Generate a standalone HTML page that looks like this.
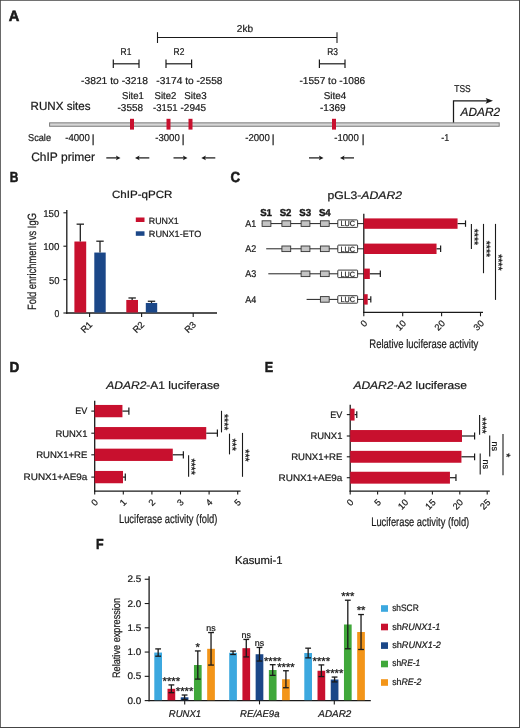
<!DOCTYPE html>
<html><head><meta charset="utf-8"><title>Figure</title>
<style>html,body{margin:0;padding:0;background:#fff;}body{width:520px;height:728px;overflow:hidden;font-family:"Liberation Sans", sans-serif;}svg{display:block;will-change:transform;}text{font-family:"Liberation Sans", sans-serif;fill:#1a1a1a;stroke:#1a1a1a;stroke-width:0.22px;text-rendering:geometricPrecision;}</style>
</head><body>
<svg width="520" height="728" viewBox="0 0 520 728">
<rect x="0" y="0" width="520" height="728" fill="#fff"/>
<path d="M0 0H520V728H0Z M0.8 0.8V727H519.05V0.8Z" fill="#444" fill-rule="evenodd"/>
<text x="8.7" y="20.8" font-size="14.8" font-weight="bold" style="stroke-width:0.55px" textLength="10.6" lengthAdjust="spacingAndGlyphs">A</text>
<line x1="157.5" y1="37.5" x2="337" y2="37.5" stroke="#1a1a1a" stroke-width="1.1"/>
<line x1="157.5" y1="32.2" x2="157.5" y2="43" stroke="#1a1a1a" stroke-width="1.1"/>
<line x1="337" y1="32.2" x2="337" y2="43" stroke="#1a1a1a" stroke-width="1.1"/>
<text x="245" y="32.2" font-size="10" text-anchor="middle" textLength="16.3" lengthAdjust="spacingAndGlyphs">2kb</text>
<text x="126" y="54.7" font-size="10" text-anchor="middle" textLength="10.8" lengthAdjust="spacingAndGlyphs">R1</text>
<line x1="113.3" y1="63.8" x2="139" y2="63.8" stroke="#1a1a1a" stroke-width="1.2"/>
<line x1="113.3" y1="59.6" x2="113.3" y2="68" stroke="#1a1a1a" stroke-width="1.2"/>
<line x1="139" y1="59.6" x2="139" y2="68" stroke="#1a1a1a" stroke-width="1.2"/>
<text x="179" y="54.7" font-size="10" text-anchor="middle" textLength="10.8" lengthAdjust="spacingAndGlyphs">R2</text>
<line x1="166" y1="63.8" x2="191.6" y2="63.8" stroke="#1a1a1a" stroke-width="1.2"/>
<line x1="166" y1="59.6" x2="166" y2="68" stroke="#1a1a1a" stroke-width="1.2"/>
<line x1="191.6" y1="59.6" x2="191.6" y2="68" stroke="#1a1a1a" stroke-width="1.2"/>
<text x="332.6" y="54.7" font-size="10" text-anchor="middle" textLength="10.8" lengthAdjust="spacingAndGlyphs">R3</text>
<line x1="319.4" y1="63.8" x2="345" y2="63.8" stroke="#1a1a1a" stroke-width="1.2"/>
<line x1="319.4" y1="59.6" x2="319.4" y2="68" stroke="#1a1a1a" stroke-width="1.2"/>
<line x1="345" y1="59.6" x2="345" y2="68" stroke="#1a1a1a" stroke-width="1.2"/>
<text x="114.5" y="83.7" font-size="10" text-anchor="middle" textLength="67" lengthAdjust="spacingAndGlyphs">-3821 to -3218</text>
<text x="189.4" y="83.7" font-size="10" text-anchor="middle" textLength="66.3" lengthAdjust="spacingAndGlyphs">-3174 to -2558</text>
<text x="332.3" y="83.7" font-size="10" text-anchor="middle" textLength="65.8" lengthAdjust="spacingAndGlyphs">-1557 to -1086</text>
<text x="132.9" y="98.8" font-size="10" text-anchor="middle" textLength="21.8" lengthAdjust="spacingAndGlyphs">Site1</text>
<text x="130.3" y="110.6" font-size="10" text-anchor="middle" textLength="25.5" lengthAdjust="spacingAndGlyphs">-3558</text>
<text x="165.4" y="98.8" font-size="10" text-anchor="middle" textLength="21.8" lengthAdjust="spacingAndGlyphs">Site2</text>
<text x="165.3" y="110.6" font-size="10" text-anchor="middle" textLength="24.5" lengthAdjust="spacingAndGlyphs">-3151</text>
<text x="195.5" y="98.8" font-size="10" text-anchor="middle" textLength="22.3" lengthAdjust="spacingAndGlyphs">Site3</text>
<text x="193.3" y="110.6" font-size="10" text-anchor="middle" textLength="25.5" lengthAdjust="spacingAndGlyphs">-2945</text>
<text x="335" y="98.8" font-size="10" text-anchor="middle" textLength="22.5" lengthAdjust="spacingAndGlyphs">Site4</text>
<text x="332.8" y="110.6" font-size="10" text-anchor="middle" textLength="25.5" lengthAdjust="spacingAndGlyphs">-1369</text>
<text x="30.6" y="110.4" font-size="11.8" textLength="60" lengthAdjust="spacingAndGlyphs">RUNX sites</text>
<rect x="49.6" y="122.85" width="449.6" height="3.4" fill="#d6d6d6" stroke="#7a7a7a" stroke-width="1"/>
<rect x="130" y="118.8" width="4" height="10.8" fill="#c8102e"/>
<rect x="166.5" y="118.8" width="4" height="10.8" fill="#c8102e"/>
<rect x="188.5" y="118.8" width="4" height="10.8" fill="#c8102e"/>
<rect x="332" y="118.8" width="4" height="10.8" fill="#c8102e"/>
<text x="28" y="141" font-size="10" textLength="23" lengthAdjust="spacingAndGlyphs">Scale</text>
<text x="65.2" y="141.1" font-size="10" textLength="24.6" lengthAdjust="spacingAndGlyphs">-4000</text>
<line x1="93.1" y1="134.3" x2="93.1" y2="145.2" stroke="#1a1a1a" stroke-width="1.2"/>
<text x="155.2" y="141.1" font-size="10" textLength="24.6" lengthAdjust="spacingAndGlyphs">-3000</text>
<line x1="183.1" y1="134.3" x2="183.1" y2="145.2" stroke="#1a1a1a" stroke-width="1.2"/>
<text x="245.2" y="141.1" font-size="10" textLength="24.6" lengthAdjust="spacingAndGlyphs">-2000</text>
<line x1="273.1" y1="134.3" x2="273.1" y2="145.2" stroke="#1a1a1a" stroke-width="1.2"/>
<text x="334.2" y="141.1" font-size="10" textLength="24.6" lengthAdjust="spacingAndGlyphs">-1000</text>
<line x1="363.1" y1="134.3" x2="363.1" y2="145.2" stroke="#1a1a1a" stroke-width="1.2"/>
<text x="441.2" y="140.5" font-size="10" textLength="8" lengthAdjust="spacingAndGlyphs">-1</text>
<text x="31.2" y="160.8" font-size="12.2" textLength="63.8" lengthAdjust="spacingAndGlyphs">ChIP primer</text>
<line x1="106.3" y1="157.9" x2="118.0" y2="157.9" stroke="#1a1a1a" stroke-width="1.25"/>
<path d="M120.5 157.9 L115.9 155.5 L116.9 157.9 L115.9 160.3 Z" fill="#1a1a1a"/>
<line x1="137.5" y1="157.9" x2="149.3" y2="157.9" stroke="#1a1a1a" stroke-width="1.25"/>
<path d="M135 157.9 L139.6 155.5 L138.6 157.9 L139.6 160.3 Z" fill="#1a1a1a"/>
<line x1="173.5" y1="157.9" x2="185.0" y2="157.9" stroke="#1a1a1a" stroke-width="1.25"/>
<path d="M187.5 157.9 L182.9 155.5 L183.9 157.9 L182.9 160.3 Z" fill="#1a1a1a"/>
<line x1="203.8" y1="157.9" x2="215.3" y2="157.9" stroke="#1a1a1a" stroke-width="1.25"/>
<path d="M201.3 157.9 L205.9 155.5 L204.9 157.9 L205.9 160.3 Z" fill="#1a1a1a"/>
<line x1="309" y1="157.9" x2="321.0" y2="157.9" stroke="#1a1a1a" stroke-width="1.25"/>
<path d="M323.5 157.9 L318.9 155.5 L319.9 157.9 L318.9 160.3 Z" fill="#1a1a1a"/>
<line x1="342.5" y1="157.9" x2="354" y2="157.9" stroke="#1a1a1a" stroke-width="1.25"/>
<path d="M340 157.9 L344.6 155.5 L343.6 157.9 L344.6 160.3 Z" fill="#1a1a1a"/>
<text x="462.5" y="92" font-size="10" text-anchor="middle" textLength="16.4" lengthAdjust="spacingAndGlyphs">TSS</text>
<path d="M453.5 122.4 L453.5 100.8 L489 100.8" fill="none" stroke="#1a1a1a" stroke-width="1.25"/>
<path d="M493 100.8 L485.6 97.9 L487.2 100.8 L485.6 103.7 Z" fill="#1a1a1a"/>
<text x="460.6" y="116.4" font-size="12" font-style="italic" textLength="39.5" lengthAdjust="spacingAndGlyphs">ADAR2</text>
<text x="9.8" y="182.3" font-size="14.5" font-weight="bold" style="stroke-width:0.55px" textLength="8.6" lengthAdjust="spacingAndGlyphs">B</text>
<text x="142.2" y="198" font-size="10.5" text-anchor="middle" textLength="60.5" lengthAdjust="spacingAndGlyphs">ChIP-qPCR</text>
<line x1="66.8" y1="210" x2="66.8" y2="313.65" stroke="#1a1a1a" stroke-width="1.3"/>
<line x1="66.15" y1="313" x2="217" y2="313" stroke="#1a1a1a" stroke-width="1.3"/>
<line x1="63.4" y1="313.0" x2="66.8" y2="313.0" stroke="#1a1a1a" stroke-width="1.1"/>
<text x="59.4" y="316.9" font-size="10" text-anchor="end" textLength="4.8" lengthAdjust="spacingAndGlyphs">0</text>
<line x1="63.4" y1="279.6" x2="66.8" y2="279.6" stroke="#1a1a1a" stroke-width="1.1"/>
<text x="59.4" y="283.5" font-size="10" text-anchor="end" textLength="10.5" lengthAdjust="spacingAndGlyphs">50</text>
<line x1="63.4" y1="246.2" x2="66.8" y2="246.2" stroke="#1a1a1a" stroke-width="1.1"/>
<text x="59.4" y="250.1" font-size="10" text-anchor="end" textLength="16.2" lengthAdjust="spacingAndGlyphs">100</text>
<line x1="63.4" y1="212.8" x2="66.8" y2="212.8" stroke="#1a1a1a" stroke-width="1.1"/>
<text x="59.4" y="216.7" font-size="10" text-anchor="end" textLength="16.2" lengthAdjust="spacingAndGlyphs">150</text>
<rect x="74.4" y="241.52" width="11.8" height="70.98" fill="#c8102e"/>
<line x1="80.3" y1="241.52" x2="80.3" y2="224.16" stroke="#1a1a1a" stroke-width="1.25"/>
<line x1="76.6" y1="224.16" x2="84.0" y2="224.16" stroke="#1a1a1a" stroke-width="1.25"/>
<rect x="94.3" y="252.55" width="11.4" height="59.95" fill="#1b4788"/>
<line x1="100.0" y1="252.55" x2="100.0" y2="241.19" stroke="#1a1a1a" stroke-width="1.25"/>
<line x1="96.3" y1="241.19" x2="103.7" y2="241.19" stroke="#1a1a1a" stroke-width="1.25"/>
<rect x="126.3" y="299.97" width="11.7" height="12.53" fill="#c8102e"/>
<line x1="132.15" y1="299.97" x2="132.15" y2="297.97" stroke="#1a1a1a" stroke-width="1.25"/>
<line x1="128.45" y1="297.97" x2="135.85" y2="297.97" stroke="#1a1a1a" stroke-width="1.25"/>
<rect x="145.8" y="302.98" width="11.4" height="9.52" fill="#1b4788"/>
<line x1="151.5" y1="302.98" x2="151.5" y2="301.24" stroke="#1a1a1a" stroke-width="1.25"/>
<line x1="147.8" y1="301.24" x2="155.2" y2="301.24" stroke="#1a1a1a" stroke-width="1.25"/>
<rect x="180" y="312.1" width="8" height="0.5" fill="#555"/>
<line x1="89.6" y1="313" x2="89.6" y2="317" stroke="#1a1a1a" stroke-width="1.1"/>
<text x="0" y="0" font-size="9.2" text-anchor="end" transform="translate(92.9 325.3) rotate(-45)">R1</text>
<line x1="141.6" y1="313" x2="141.6" y2="317" stroke="#1a1a1a" stroke-width="1.1"/>
<text x="0" y="0" font-size="9.2" text-anchor="end" transform="translate(144.9 325.3) rotate(-45)">R2</text>
<line x1="193.2" y1="313" x2="193.2" y2="317" stroke="#1a1a1a" stroke-width="1.1"/>
<text x="0" y="0" font-size="9.2" text-anchor="end" transform="translate(196.5 325.3) rotate(-45)">R3</text>
<rect x="135.8" y="217.5" width="8.7" height="4.5" fill="#c8102e"/>
<text x="148.8" y="223.6" font-size="9" textLength="30" lengthAdjust="spacingAndGlyphs">RUNX1</text>
<rect x="135.8" y="231.3" width="8.7" height="4.5" fill="#1b4788"/>
<text x="148.8" y="237" font-size="9" textLength="52.5" lengthAdjust="spacingAndGlyphs">RUNX1-ETO</text>
<text x="0" y="0" font-size="12" text-anchor="middle" transform="translate(35.6 261.5) rotate(-90)" textLength="97" lengthAdjust="spacingAndGlyphs">Fold enrichment vs IgG</text>
<text x="230.5" y="182.4" font-size="14.5" font-weight="bold" style="stroke-width:0.55px" textLength="9.6" lengthAdjust="spacingAndGlyphs">C</text>
<text x="364.7" y="198.6" font-size="11" text-anchor="middle" fill="#1a1a1a" textLength="74.6" lengthAdjust="spacingAndGlyphs">pGL3-<tspan font-style="italic">ADAR2</tspan></text>
<text x="266.1" y="216.2" font-size="10" text-anchor="middle" font-weight="bold" style="stroke-width:0.4px" textLength="11.8" lengthAdjust="spacingAndGlyphs">S1</text>
<text x="285.6" y="216.2" font-size="10" text-anchor="middle" font-weight="bold" style="stroke-width:0.4px" textLength="11.8" lengthAdjust="spacingAndGlyphs">S2</text>
<text x="305.2" y="216.2" font-size="10" text-anchor="middle" font-weight="bold" style="stroke-width:0.4px" textLength="11.8" lengthAdjust="spacingAndGlyphs">S3</text>
<text x="324.8" y="216.2" font-size="10" text-anchor="middle" font-weight="bold" style="stroke-width:0.4px" textLength="11.8" lengthAdjust="spacingAndGlyphs">S4</text>
<line x1="363.8" y1="213.8" x2="363.8" y2="313.05" stroke="#1a1a1a" stroke-width="1.3"/>
<line x1="363.15" y1="312.4" x2="483" y2="312.4" stroke="#1a1a1a" stroke-width="1.3"/>
<text x="245.2" y="226.9" font-size="9.8" textLength="11" lengthAdjust="spacingAndGlyphs">A1</text>
<line x1="261.9" y1="223.6" x2="338" y2="223.6" stroke="#222" stroke-width="1.0"/>
<rect x="262.1" y="220.8" width="8.8" height="5.6" fill="#c4c4c4" stroke="#333" stroke-width="0.9"/>
<rect x="281.9" y="220.8" width="8.8" height="5.6" fill="#c4c4c4" stroke="#333" stroke-width="0.9"/>
<rect x="301.1" y="220.8" width="8.8" height="5.6" fill="#c4c4c4" stroke="#333" stroke-width="0.9"/>
<rect x="320.4" y="220.8" width="8.8" height="5.6" fill="#c4c4c4" stroke="#333" stroke-width="0.9"/>
<rect x="337.8" y="219.9" width="19.8" height="7.5" fill="#fff" stroke="#222" stroke-width="0.9" rx="0.7"/>
<text x="347.8" y="226.3" font-size="7.6" text-anchor="middle" textLength="14.6" lengthAdjust="spacingAndGlyphs">LUC</text>
<line x1="357.6" y1="223.6" x2="363.8" y2="223.6" stroke="#222" stroke-width="1.0"/>
<rect x="363.8" y="218.4" width="93.75" height="10.4" fill="#c8102e"/>
<line x1="457.55" y1="223.6" x2="465.52" y2="223.6" stroke="#1a1a1a" stroke-width="1.2"/>
<line x1="465.52" y1="220.4" x2="465.52" y2="226.8" stroke="#1a1a1a" stroke-width="1.2"/>
<text x="245.2" y="252.1" font-size="9.8" textLength="11" lengthAdjust="spacingAndGlyphs">A2</text>
<line x1="266.2" y1="248.8" x2="338" y2="248.8" stroke="#222" stroke-width="1.0"/>
<rect x="281.9" y="246.0" width="8.8" height="5.6" fill="#c4c4c4" stroke="#333" stroke-width="0.9"/>
<rect x="301.1" y="246.0" width="8.8" height="5.6" fill="#c4c4c4" stroke="#333" stroke-width="0.9"/>
<rect x="320.4" y="246.0" width="8.8" height="5.6" fill="#c4c4c4" stroke="#333" stroke-width="0.9"/>
<rect x="337.8" y="245.1" width="19.8" height="7.5" fill="#fff" stroke="#222" stroke-width="0.9" rx="0.7"/>
<text x="347.8" y="251.5" font-size="7.6" text-anchor="middle" textLength="14.6" lengthAdjust="spacingAndGlyphs">LUC</text>
<line x1="357.6" y1="248.8" x2="363.8" y2="248.8" stroke="#222" stroke-width="1.0"/>
<rect x="363.8" y="243.6" width="72.74" height="10.4" fill="#c8102e"/>
<line x1="436.54" y1="248.8" x2="440.63" y2="248.8" stroke="#1a1a1a" stroke-width="1.2"/>
<line x1="440.63" y1="245.6" x2="440.63" y2="252.0" stroke="#1a1a1a" stroke-width="1.2"/>
<text x="245.2" y="277.1" font-size="9.8" textLength="11" lengthAdjust="spacingAndGlyphs">A3</text>
<line x1="268.3" y1="273.8" x2="338" y2="273.8" stroke="#222" stroke-width="1.0"/>
<rect x="301.1" y="271.0" width="8.8" height="5.6" fill="#c4c4c4" stroke="#333" stroke-width="0.9"/>
<rect x="320.4" y="271.0" width="8.8" height="5.6" fill="#c4c4c4" stroke="#333" stroke-width="0.9"/>
<rect x="337.8" y="270.1" width="19.8" height="7.5" fill="#fff" stroke="#222" stroke-width="0.9" rx="0.7"/>
<text x="347.8" y="276.5" font-size="7.6" text-anchor="middle" textLength="14.6" lengthAdjust="spacingAndGlyphs">LUC</text>
<line x1="357.6" y1="273.8" x2="363.8" y2="273.8" stroke="#222" stroke-width="1.0"/>
<rect x="363.8" y="268.6" width="6.03" height="10.4" fill="#c8102e"/>
<line x1="369.83" y1="273.8" x2="380.33" y2="273.8" stroke="#1a1a1a" stroke-width="1.2"/>
<line x1="380.33" y1="270.6" x2="380.33" y2="277.0" stroke="#1a1a1a" stroke-width="1.2"/>
<text x="245.2" y="302.7" font-size="9.8" textLength="11" lengthAdjust="spacingAndGlyphs">A4</text>
<line x1="306.6" y1="299.4" x2="338" y2="299.4" stroke="#222" stroke-width="1.0"/>
<rect x="320.4" y="296.6" width="8.8" height="5.6" fill="#c4c4c4" stroke="#333" stroke-width="0.9"/>
<rect x="337.8" y="295.7" width="19.8" height="7.5" fill="#fff" stroke="#222" stroke-width="0.9" rx="0.7"/>
<text x="347.8" y="302.1" font-size="7.6" text-anchor="middle" textLength="14.6" lengthAdjust="spacingAndGlyphs">LUC</text>
<line x1="357.6" y1="299.4" x2="363.8" y2="299.4" stroke="#222" stroke-width="1.0"/>
<rect x="363.8" y="294.2" width="3.89" height="10.4" fill="#c8102e"/>
<line x1="367.69" y1="299.4" x2="370.8" y2="299.4" stroke="#1a1a1a" stroke-width="1.2"/>
<line x1="370.8" y1="296.2" x2="370.8" y2="302.6" stroke="#1a1a1a" stroke-width="1.2"/>
<line x1="363.8" y1="312.4" x2="363.8" y2="316.3" stroke="#1a1a1a" stroke-width="1.1"/>
<text x="0" y="0" font-size="9.2" text-anchor="end" transform="translate(367.8 323.9) rotate(-45)">0</text>
<line x1="402.7" y1="312.4" x2="402.7" y2="316.3" stroke="#1a1a1a" stroke-width="1.1"/>
<text x="0" y="0" font-size="9.2" text-anchor="end" transform="translate(406.7 323.9) rotate(-45)">10</text>
<line x1="441.6" y1="312.4" x2="441.6" y2="316.3" stroke="#1a1a1a" stroke-width="1.1"/>
<text x="0" y="0" font-size="9.2" text-anchor="end" transform="translate(445.6 323.9) rotate(-45)">20</text>
<line x1="480.5" y1="312.4" x2="480.5" y2="316.3" stroke="#1a1a1a" stroke-width="1.1"/>
<text x="0" y="0" font-size="9.2" text-anchor="end" transform="translate(484.5 323.9) rotate(-45)">30</text>
<text x="423.8" y="347.5" font-size="12.3" text-anchor="middle" textLength="109" lengthAdjust="spacingAndGlyphs">Relative luciferase activity</text>
<line x1="471.4" y1="223.9" x2="471.4" y2="249.1" stroke="#1a1a1a" stroke-width="1.1"/>
<text x="0" y="0" font-size="10.5" text-anchor="middle" transform="translate(470.9 236.9) rotate(90)" style="stroke-width:0.3px">****</text>
<line x1="483.5" y1="223.9" x2="483.5" y2="273.2" stroke="#1a1a1a" stroke-width="1.1"/>
<text x="0" y="0" font-size="10.5" text-anchor="middle" transform="translate(483.0 248.95) rotate(90)" style="stroke-width:0.3px">****</text>
<line x1="495.5" y1="223.9" x2="495.5" y2="299.9" stroke="#1a1a1a" stroke-width="1.1"/>
<text x="0" y="0" font-size="10.5" text-anchor="middle" transform="translate(495.0 262.3) rotate(90)" style="stroke-width:0.3px">****</text>
<text x="9.5" y="371.7" font-size="14.5" font-weight="bold" style="stroke-width:0.55px" textLength="9.8" lengthAdjust="spacingAndGlyphs">D</text>
<text x="163" y="389.3" font-size="11" text-anchor="middle" fill="#1a1a1a" textLength="113.4" lengthAdjust="spacingAndGlyphs"><tspan font-style="italic">ADAR2</tspan>-A1 luciferase</text>
<line x1="94.7" y1="400.8" x2="94.7" y2="491.75" stroke="#1a1a1a" stroke-width="1.3"/>
<line x1="94.05" y1="491.1" x2="240.6" y2="491.1" stroke="#1a1a1a" stroke-width="1.3"/>
<text x="87.4" y="414.4" font-size="9.4" text-anchor="end" textLength="12.1" lengthAdjust="spacingAndGlyphs">EV</text>
<line x1="91.3" y1="411.1" x2="94.7" y2="411.1" stroke="#1a1a1a" stroke-width="1.1"/>
<rect x="94.7" y="404.95" width="27.74" height="12.3" fill="#c8102e"/>
<line x1="122.44" y1="411.1" x2="128.88" y2="411.1" stroke="#1a1a1a" stroke-width="1.2"/>
<line x1="128.88" y1="407.5" x2="128.88" y2="414.7" stroke="#1a1a1a" stroke-width="1.2"/>
<text x="87.4" y="436.5" font-size="9.4" text-anchor="end" textLength="32" lengthAdjust="spacingAndGlyphs">RUNX1</text>
<line x1="91.3" y1="433.2" x2="94.7" y2="433.2" stroke="#1a1a1a" stroke-width="1.1"/>
<rect x="94.7" y="427.05" width="111.54" height="12.3" fill="#c8102e"/>
<line x1="206.24" y1="433.2" x2="217.39" y2="433.2" stroke="#1a1a1a" stroke-width="1.2"/>
<line x1="217.39" y1="429.6" x2="217.39" y2="436.8" stroke="#1a1a1a" stroke-width="1.2"/>
<text x="87.4" y="458.1" font-size="9.4" text-anchor="end" textLength="51.2" lengthAdjust="spacingAndGlyphs">RUNX1+RE</text>
<line x1="91.3" y1="454.8" x2="94.7" y2="454.8" stroke="#1a1a1a" stroke-width="1.1"/>
<rect x="94.7" y="448.65" width="78.08" height="12.3" fill="#c8102e"/>
<line x1="172.78" y1="454.8" x2="183.36" y2="454.8" stroke="#1a1a1a" stroke-width="1.2"/>
<line x1="183.36" y1="451.2" x2="183.36" y2="458.4" stroke="#1a1a1a" stroke-width="1.2"/>
<text x="87.4" y="480.4" font-size="9.4" text-anchor="end" textLength="63.8" lengthAdjust="spacingAndGlyphs">RUNX1+AE9a</text>
<line x1="91.3" y1="477.1" x2="94.7" y2="477.1" stroke="#1a1a1a" stroke-width="1.1"/>
<rect x="94.7" y="470.95" width="28.31" height="12.3" fill="#c8102e"/>
<line x1="123.01" y1="477.1" x2="125.3" y2="477.1" stroke="#1a1a1a" stroke-width="1.2"/>
<line x1="125.3" y1="473.5" x2="125.3" y2="480.7" stroke="#1a1a1a" stroke-width="1.2"/>
<line x1="94.7" y1="491.1" x2="94.7" y2="494.5" stroke="#1a1a1a" stroke-width="1.1"/>
<text x="0" y="0" font-size="9.2" text-anchor="end" transform="translate(98.6 502.8) rotate(-45)">0</text>
<line x1="123.3" y1="491.1" x2="123.3" y2="494.5" stroke="#1a1a1a" stroke-width="1.1"/>
<text x="0" y="0" font-size="9.2" text-anchor="end" transform="translate(127.2 502.8) rotate(-45)">1</text>
<line x1="151.9" y1="491.1" x2="151.9" y2="494.5" stroke="#1a1a1a" stroke-width="1.1"/>
<text x="0" y="0" font-size="9.2" text-anchor="end" transform="translate(155.8 502.8) rotate(-45)">2</text>
<line x1="180.5" y1="491.1" x2="180.5" y2="494.5" stroke="#1a1a1a" stroke-width="1.1"/>
<text x="0" y="0" font-size="9.2" text-anchor="end" transform="translate(184.4 502.8) rotate(-45)">3</text>
<line x1="209.1" y1="491.1" x2="209.1" y2="494.5" stroke="#1a1a1a" stroke-width="1.1"/>
<text x="0" y="0" font-size="9.2" text-anchor="end" transform="translate(213.0 502.8) rotate(-45)">4</text>
<line x1="237.7" y1="491.1" x2="237.7" y2="494.5" stroke="#1a1a1a" stroke-width="1.1"/>
<text x="0" y="0" font-size="9.2" text-anchor="end" transform="translate(241.6 502.8) rotate(-45)">5</text>
<text x="168.2" y="522.5" font-size="12.3" text-anchor="middle" textLength="98.5" lengthAdjust="spacingAndGlyphs">Luciferase activity (fold)</text>
<line x1="221.5" y1="410.8" x2="221.5" y2="432.4" stroke="#1a1a1a" stroke-width="1.1"/>
<text x="0" y="0" font-size="10.5" text-anchor="middle" transform="translate(221.0 422.2) rotate(90)" style="stroke-width:0.3px">****</text>
<line x1="229.5" y1="433.7" x2="229.5" y2="454.4" stroke="#1a1a1a" stroke-width="1.1"/>
<text x="0" y="0" font-size="10.5" text-anchor="middle" transform="translate(229.0 444.65) rotate(90)" style="stroke-width:0.3px">***</text>
<line x1="242.5" y1="432.9" x2="242.5" y2="476.8" stroke="#1a1a1a" stroke-width="1.1"/>
<text x="0" y="0" font-size="10.5" text-anchor="middle" transform="translate(242.0 455.45) rotate(90)" style="stroke-width:0.3px">***</text>
<line x1="188.6" y1="455.2" x2="188.6" y2="476.8" stroke="#1a1a1a" stroke-width="1.1"/>
<text x="0" y="0" font-size="10.5" text-anchor="middle" transform="translate(188.1 466.6) rotate(90)" style="stroke-width:0.3px">****</text>
<text x="264.8" y="371.9" font-size="14.5" font-weight="bold" style="stroke-width:0.55px" textLength="8.4" lengthAdjust="spacingAndGlyphs">E</text>
<text x="410.2" y="389.3" font-size="11" text-anchor="middle" fill="#1a1a1a" textLength="113.6" lengthAdjust="spacingAndGlyphs"><tspan font-style="italic">ADAR2</tspan>-A2 luciferase</text>
<line x1="350.2" y1="404.8" x2="350.2" y2="491.85" stroke="#1a1a1a" stroke-width="1.3"/>
<line x1="349.55" y1="491.2" x2="489.8" y2="491.2" stroke="#1a1a1a" stroke-width="1.3"/>
<text x="342.4" y="417.8" font-size="9.4" text-anchor="end" textLength="12.1" lengthAdjust="spacingAndGlyphs">EV</text>
<line x1="346.8" y1="414.6" x2="350.2" y2="414.6" stroke="#1a1a1a" stroke-width="1.1"/>
<rect x="350.2" y="408.65" width="4.38" height="11.9" fill="#c8102e"/>
<line x1="354.58" y1="414.6" x2="356.78" y2="414.6" stroke="#1a1a1a" stroke-width="1.2"/>
<line x1="356.78" y1="411.2" x2="356.78" y2="418.0" stroke="#1a1a1a" stroke-width="1.2"/>
<text x="342.4" y="439.2" font-size="9.4" text-anchor="end" textLength="32" lengthAdjust="spacingAndGlyphs">RUNX1</text>
<line x1="346.8" y1="436" x2="350.2" y2="436" stroke="#1a1a1a" stroke-width="1.1"/>
<rect x="350.2" y="430.05" width="111.79" height="11.9" fill="#c8102e"/>
<line x1="461.99" y1="436" x2="474.6" y2="436" stroke="#1a1a1a" stroke-width="1.2"/>
<line x1="474.6" y1="432.6" x2="474.6" y2="439.4" stroke="#1a1a1a" stroke-width="1.2"/>
<text x="342.4" y="460.0" font-size="9.4" text-anchor="end" textLength="51.2" lengthAdjust="spacingAndGlyphs">RUNX1+RE</text>
<line x1="346.8" y1="456.8" x2="350.2" y2="456.8" stroke="#1a1a1a" stroke-width="1.1"/>
<rect x="350.2" y="450.85" width="111.24" height="11.9" fill="#c8102e"/>
<line x1="461.44" y1="456.8" x2="474.6" y2="456.8" stroke="#1a1a1a" stroke-width="1.2"/>
<line x1="474.6" y1="453.4" x2="474.6" y2="460.2" stroke="#1a1a1a" stroke-width="1.2"/>
<text x="342.4" y="480.9" font-size="9.4" text-anchor="end" textLength="63.8" lengthAdjust="spacingAndGlyphs">RUNX1+AE9a</text>
<line x1="346.8" y1="477.7" x2="350.2" y2="477.7" stroke="#1a1a1a" stroke-width="1.1"/>
<rect x="350.2" y="471.75" width="99.74" height="11.9" fill="#c8102e"/>
<line x1="449.94" y1="477.7" x2="455.96" y2="477.7" stroke="#1a1a1a" stroke-width="1.2"/>
<line x1="455.96" y1="474.3" x2="455.96" y2="481.1" stroke="#1a1a1a" stroke-width="1.2"/>
<line x1="350.2" y1="491.2" x2="350.2" y2="494.6" stroke="#1a1a1a" stroke-width="1.1"/>
<text x="0" y="0" font-size="9.2" text-anchor="end" transform="translate(354.1 502.9) rotate(-45)">0</text>
<line x1="377.6" y1="491.2" x2="377.6" y2="494.6" stroke="#1a1a1a" stroke-width="1.1"/>
<text x="0" y="0" font-size="9.2" text-anchor="end" transform="translate(381.5 502.9) rotate(-45)">5</text>
<line x1="405.0" y1="491.2" x2="405.0" y2="494.6" stroke="#1a1a1a" stroke-width="1.1"/>
<text x="0" y="0" font-size="9.2" text-anchor="end" transform="translate(408.9 502.9) rotate(-45)">10</text>
<line x1="432.4" y1="491.2" x2="432.4" y2="494.6" stroke="#1a1a1a" stroke-width="1.1"/>
<text x="0" y="0" font-size="9.2" text-anchor="end" transform="translate(436.3 502.9) rotate(-45)">15</text>
<line x1="459.8" y1="491.2" x2="459.8" y2="494.6" stroke="#1a1a1a" stroke-width="1.1"/>
<text x="0" y="0" font-size="9.2" text-anchor="end" transform="translate(463.7 502.9) rotate(-45)">20</text>
<line x1="487.2" y1="491.2" x2="487.2" y2="494.6" stroke="#1a1a1a" stroke-width="1.1"/>
<text x="0" y="0" font-size="9.2" text-anchor="end" transform="translate(491.1 502.9) rotate(-45)">25</text>
<text x="420.2" y="526" font-size="12.3" text-anchor="middle" textLength="98" lengthAdjust="spacingAndGlyphs">Luciferase activity (fold)</text>
<line x1="479.6" y1="415.1" x2="479.6" y2="434.7" stroke="#1a1a1a" stroke-width="1.1"/>
<text x="0" y="0" font-size="10.5" text-anchor="middle" transform="translate(479.1 425.5) rotate(90)" style="stroke-width:0.3px">****</text>
<line x1="489.7" y1="435.5" x2="489.7" y2="456.4" stroke="#1a1a1a" stroke-width="1.1"/>
<text x="0" y="0" font-size="9" text-anchor="middle" transform="translate(492.4 446.15) rotate(90)" textLength="9.5" lengthAdjust="spacingAndGlyphs">ns</text>
<line x1="480.2" y1="453.4" x2="480.2" y2="474.5" stroke="#1a1a1a" stroke-width="1.1"/>
<text x="0" y="0" font-size="9" text-anchor="middle" transform="translate(482.9 464.15) rotate(90)" textLength="9.5" lengthAdjust="spacingAndGlyphs">ns</text>
<line x1="503" y1="434.1" x2="503" y2="475.3" stroke="#1a1a1a" stroke-width="1.1"/>
<text x="0" y="0" font-size="10.5" text-anchor="middle" transform="translate(502.5 455.3) rotate(90)" style="stroke-width:0.3px">*</text>
<text x="96" y="548.5" font-size="14.5" font-weight="bold" style="stroke-width:0.55px" textLength="7.6" lengthAdjust="spacingAndGlyphs">F</text>
<text x="258.7" y="563.8" font-size="11.2" text-anchor="middle" textLength="47.6" lengthAdjust="spacingAndGlyphs">Kasumi-1</text>
<line x1="149.1" y1="576.2" x2="149.1" y2="701.25" stroke="#1a1a1a" stroke-width="1.3"/>
<line x1="148.45" y1="700.6" x2="370.8" y2="700.6" stroke="#1a1a1a" stroke-width="1.3"/>
<line x1="144.7" y1="700.6" x2="149.1" y2="700.6" stroke="#1a1a1a" stroke-width="1.1"/>
<text x="141.4" y="703.7" font-size="9.6" text-anchor="end" textLength="13.8" lengthAdjust="spacingAndGlyphs">0.0</text>
<line x1="144.7" y1="676.33" x2="149.1" y2="676.33" stroke="#1a1a1a" stroke-width="1.1"/>
<text x="141.4" y="679.43" font-size="9.6" text-anchor="end" textLength="13.8" lengthAdjust="spacingAndGlyphs">0.5</text>
<line x1="144.7" y1="652.06" x2="149.1" y2="652.06" stroke="#1a1a1a" stroke-width="1.1"/>
<text x="141.4" y="655.16" font-size="9.6" text-anchor="end" textLength="13.8" lengthAdjust="spacingAndGlyphs">1.0</text>
<line x1="144.7" y1="627.79" x2="149.1" y2="627.79" stroke="#1a1a1a" stroke-width="1.1"/>
<text x="141.4" y="630.89" font-size="9.6" text-anchor="end" textLength="13.8" lengthAdjust="spacingAndGlyphs">1.5</text>
<line x1="144.7" y1="603.52" x2="149.1" y2="603.52" stroke="#1a1a1a" stroke-width="1.1"/>
<text x="141.4" y="606.62" font-size="9.6" text-anchor="end" textLength="13.8" lengthAdjust="spacingAndGlyphs">2.0</text>
<line x1="144.7" y1="579.25" x2="149.1" y2="579.25" stroke="#1a1a1a" stroke-width="1.1"/>
<text x="141.4" y="582.35" font-size="9.6" text-anchor="end" textLength="13.8" lengthAdjust="spacingAndGlyphs">2.5</text>
<text x="0" y="0" font-size="10.8" text-anchor="middle" transform="translate(120.1 638) rotate(-90)" textLength="80.2" lengthAdjust="spacingAndGlyphs">Relative expression</text>
<rect x="154.3" y="652.55" width="7.7" height="47.65" fill="#3ca8df"/>
<line x1="158.15" y1="656.19" x2="158.15" y2="648.9" stroke="#1a1a1a" stroke-width="1.3"/>
<line x1="155.25" y1="648.9" x2="161.05" y2="648.9" stroke="#1a1a1a" stroke-width="1.3"/>
<line x1="155.25" y1="656.19" x2="161.05" y2="656.19" stroke="#1a1a1a" stroke-width="1.3"/>
<rect x="167.52" y="688.8" width="7.7" height="11.4" fill="#c8102e"/>
<line x1="171.37" y1="692.69" x2="171.37" y2="684.92" stroke="#1a1a1a" stroke-width="1.3"/>
<line x1="168.47" y1="684.92" x2="174.27" y2="684.92" stroke="#1a1a1a" stroke-width="1.3"/>
<line x1="168.47" y1="692.69" x2="174.27" y2="692.69" stroke="#1a1a1a" stroke-width="1.3"/>
<text x="171.37" y="684.82" font-size="11.3" text-anchor="middle" style="stroke-width:0.25px">****</text>
<rect x="180.74" y="697.3" width="7.7" height="2.9" fill="#1b4788"/>
<line x1="184.59" y1="699.58" x2="184.59" y2="695.02" stroke="#1a1a1a" stroke-width="1.3"/>
<line x1="181.69" y1="695.02" x2="187.49" y2="695.02" stroke="#1a1a1a" stroke-width="1.3"/>
<line x1="181.69" y1="699.58" x2="187.49" y2="699.58" stroke="#1a1a1a" stroke-width="1.3"/>
<text x="184.59" y="694.92" font-size="11.3" text-anchor="middle" style="stroke-width:0.25px">****</text>
<rect x="193.96" y="665.02" width="7.7" height="35.18" fill="#40a83a"/>
<line x1="197.81" y1="679.1" x2="197.81" y2="650.94" stroke="#1a1a1a" stroke-width="1.3"/>
<line x1="194.91" y1="650.94" x2="200.71" y2="650.94" stroke="#1a1a1a" stroke-width="1.3"/>
<line x1="194.91" y1="679.1" x2="200.71" y2="679.1" stroke="#1a1a1a" stroke-width="1.3"/>
<text x="197.81" y="650.84" font-size="11.3" text-anchor="middle" style="stroke-width:0.25px">*</text>
<rect x="207.18" y="648.81" width="7.7" height="51.39" fill="#f39519"/>
<line x1="211.03" y1="665.07" x2="211.03" y2="632.55" stroke="#1a1a1a" stroke-width="1.3"/>
<line x1="208.13" y1="632.55" x2="213.93" y2="632.55" stroke="#1a1a1a" stroke-width="1.3"/>
<line x1="208.13" y1="665.07" x2="213.93" y2="665.07" stroke="#1a1a1a" stroke-width="1.3"/>
<text x="211.03" y="630.95" font-size="8.8" text-anchor="middle" textLength="9.4" lengthAdjust="spacingAndGlyphs">ns</text>
<line x1="184.7" y1="700.6" x2="184.7" y2="704.4" stroke="#1a1a1a" stroke-width="1.1"/>
<text x="185" y="716.8" font-size="9.8" text-anchor="middle" font-style="italic" textLength="32.3" lengthAdjust="spacingAndGlyphs">RUNX1</text>
<rect x="229.2" y="652.79" width="7.7" height="47.41" fill="#3ca8df"/>
<line x1="233.05" y1="654.49" x2="233.05" y2="651.09" stroke="#1a1a1a" stroke-width="1.3"/>
<line x1="230.15" y1="651.09" x2="235.95" y2="651.09" stroke="#1a1a1a" stroke-width="1.3"/>
<line x1="230.15" y1="654.49" x2="235.95" y2="654.49" stroke="#1a1a1a" stroke-width="1.3"/>
<rect x="242.42" y="648.18" width="7.7" height="52.02" fill="#c8102e"/>
<line x1="246.27" y1="656.91" x2="246.27" y2="639.44" stroke="#1a1a1a" stroke-width="1.3"/>
<line x1="243.37" y1="639.44" x2="249.17" y2="639.44" stroke="#1a1a1a" stroke-width="1.3"/>
<line x1="243.37" y1="656.91" x2="249.17" y2="656.91" stroke="#1a1a1a" stroke-width="1.3"/>
<text x="246.27" y="637.84" font-size="8.8" text-anchor="middle" textLength="9.4" lengthAdjust="spacingAndGlyphs">ns</text>
<rect x="255.64" y="654.24" width="7.7" height="45.96" fill="#1b4788"/>
<line x1="259.49" y1="661.04" x2="259.49" y2="647.45" stroke="#1a1a1a" stroke-width="1.3"/>
<line x1="256.59" y1="647.45" x2="262.39" y2="647.45" stroke="#1a1a1a" stroke-width="1.3"/>
<line x1="256.59" y1="661.04" x2="262.39" y2="661.04" stroke="#1a1a1a" stroke-width="1.3"/>
<text x="259.49" y="645.85" font-size="8.8" text-anchor="middle" textLength="9.4" lengthAdjust="spacingAndGlyphs">ns</text>
<rect x="268.86" y="670.02" width="7.7" height="30.18" fill="#40a83a"/>
<line x1="272.71" y1="675.36" x2="272.71" y2="664.68" stroke="#1a1a1a" stroke-width="1.3"/>
<line x1="269.81" y1="664.68" x2="275.61" y2="664.68" stroke="#1a1a1a" stroke-width="1.3"/>
<line x1="269.81" y1="675.36" x2="275.61" y2="675.36" stroke="#1a1a1a" stroke-width="1.3"/>
<text x="272.71" y="664.58" font-size="11.3" text-anchor="middle" style="stroke-width:0.25px">****</text>
<rect x="282.08" y="679.24" width="7.7" height="20.96" fill="#f39519"/>
<line x1="285.93" y1="687.74" x2="285.93" y2="670.75" stroke="#1a1a1a" stroke-width="1.3"/>
<line x1="283.03" y1="670.75" x2="288.83" y2="670.75" stroke="#1a1a1a" stroke-width="1.3"/>
<line x1="283.03" y1="687.74" x2="288.83" y2="687.74" stroke="#1a1a1a" stroke-width="1.3"/>
<text x="285.93" y="670.65" font-size="11.3" text-anchor="middle" style="stroke-width:0.25px">****</text>
<line x1="259.5" y1="700.6" x2="259.5" y2="704.4" stroke="#1a1a1a" stroke-width="1.1"/>
<text x="259.8" y="716.8" font-size="9.8" text-anchor="middle" font-style="italic" textLength="39.4" lengthAdjust="spacingAndGlyphs">RE/AE9a</text>
<rect x="304.3" y="653.03" width="7.7" height="47.17" fill="#3ca8df"/>
<line x1="308.15" y1="657.88" x2="308.15" y2="648.18" stroke="#1a1a1a" stroke-width="1.3"/>
<line x1="305.25" y1="648.18" x2="311.05" y2="648.18" stroke="#1a1a1a" stroke-width="1.3"/>
<line x1="305.25" y1="657.88" x2="311.05" y2="657.88" stroke="#1a1a1a" stroke-width="1.3"/>
<rect x="317.52" y="670.75" width="7.7" height="29.45" fill="#c8102e"/>
<line x1="321.37" y1="676.57" x2="321.37" y2="664.92" stroke="#1a1a1a" stroke-width="1.3"/>
<line x1="318.47" y1="664.92" x2="324.27" y2="664.92" stroke="#1a1a1a" stroke-width="1.3"/>
<line x1="318.47" y1="676.57" x2="324.27" y2="676.57" stroke="#1a1a1a" stroke-width="1.3"/>
<text x="321.37" y="664.82" font-size="11.3" text-anchor="middle" style="stroke-width:0.25px">****</text>
<rect x="330.74" y="679.49" width="7.7" height="20.71" fill="#1b4788"/>
<line x1="334.59" y1="681.91" x2="334.59" y2="677.06" stroke="#1a1a1a" stroke-width="1.3"/>
<line x1="331.69" y1="677.06" x2="337.49" y2="677.06" stroke="#1a1a1a" stroke-width="1.3"/>
<line x1="331.69" y1="681.91" x2="337.49" y2="681.91" stroke="#1a1a1a" stroke-width="1.3"/>
<text x="334.59" y="676.96" font-size="11.3" text-anchor="middle" style="stroke-width:0.25px">****</text>
<rect x="343.96" y="624.49" width="7.7" height="75.71" fill="#40a83a"/>
<line x1="347.81" y1="648.76" x2="347.81" y2="600.22" stroke="#1a1a1a" stroke-width="1.3"/>
<line x1="344.91" y1="600.22" x2="350.71" y2="600.22" stroke="#1a1a1a" stroke-width="1.3"/>
<line x1="344.91" y1="648.76" x2="350.71" y2="648.76" stroke="#1a1a1a" stroke-width="1.3"/>
<text x="347.81" y="600.12" font-size="11.3" text-anchor="middle" style="stroke-width:0.25px">***</text>
<rect x="357.18" y="632.01" width="7.7" height="68.19" fill="#f39519"/>
<line x1="361.03" y1="649.49" x2="361.03" y2="614.54" stroke="#1a1a1a" stroke-width="1.3"/>
<line x1="358.13" y1="614.54" x2="363.93" y2="614.54" stroke="#1a1a1a" stroke-width="1.3"/>
<line x1="358.13" y1="649.49" x2="363.93" y2="649.49" stroke="#1a1a1a" stroke-width="1.3"/>
<text x="361.03" y="614.44" font-size="11.3" text-anchor="middle" style="stroke-width:0.25px">**</text>
<line x1="334.3" y1="700.6" x2="334.3" y2="704.4" stroke="#1a1a1a" stroke-width="1.1"/>
<text x="334.8" y="716.8" font-size="9.8" text-anchor="middle" font-style="italic" textLength="33" lengthAdjust="spacingAndGlyphs">ADAR2</text>
<rect x="381" y="605.2" width="7" height="6.6" fill="#3ca8df"/>
<text x="392.2" y="611.2" font-size="9.4" fill="#1a1a1a" textLength="26.5" lengthAdjust="spacingAndGlyphs">shSCR</text>
<rect x="381" y="623.7" width="7" height="6.6" fill="#c8102e"/>
<text x="392.2" y="629.8" font-size="9.4" fill="#1a1a1a" textLength="48.2" lengthAdjust="spacingAndGlyphs">sh<tspan font-style="italic">RUNX1-1</tspan></text>
<rect x="381" y="642.3" width="7" height="6.6" fill="#1b4788"/>
<text x="392.2" y="648.2" font-size="9.4" fill="#1a1a1a" textLength="48.7" lengthAdjust="spacingAndGlyphs">sh<tspan font-style="italic">RUNX1-2</tspan></text>
<rect x="381" y="660.7" width="7" height="6.6" fill="#40a83a"/>
<text x="392.2" y="666.2" font-size="9.4" fill="#1a1a1a" textLength="28.1" lengthAdjust="spacingAndGlyphs">sh<tspan font-style="italic">RE-1</tspan></text>
<rect x="381" y="679.2" width="7" height="6.6" fill="#f39519"/>
<text x="392.2" y="684.6" font-size="9.4" fill="#1a1a1a" textLength="29.2" lengthAdjust="spacingAndGlyphs">sh<tspan font-style="italic">RE-2</tspan></text>
</svg>
</body></html>
